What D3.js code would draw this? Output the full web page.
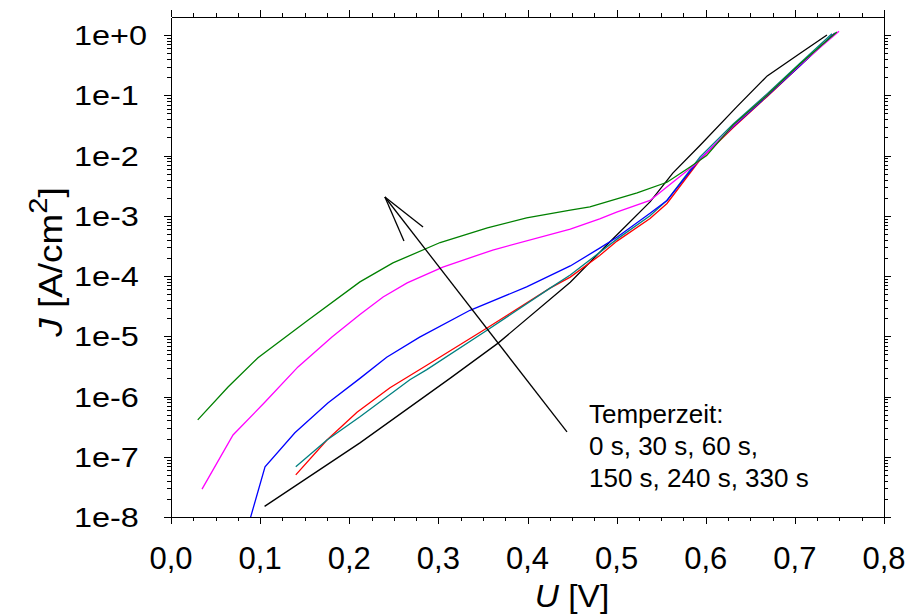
<!DOCTYPE html>
<html lang="de">
<head>
<meta charset="utf-8">
<title>J-U Kennlinien, Temperzeit</title>
<script src="https://cdn.jsdelivr.net/npm/d3@7"></script>
<style>
  body { margin: 0; background: #fff; }
  svg text { font-family: "Liberation Sans", Arial, sans-serif; fill: #000; }
  .axis path, .axis line { stroke: #000; shape-rendering: crispEdges; }
  .axis path { stroke-width: 1.5; }
  .curve { fill: none; stroke-width: 1.3; }
</style>
</head>
<body>
<script>
// --- data (U in V, J in A/cm^2) ---
var u_0s   = [0.105, 0.212, 0.313, 0.367, 0.448, 0.4926, 0.5375, 0.563, 0.594, 0.635, 0.669, 0.706, 0.736];
var j_0s   = [1.5e-8, 1.7e-7, 2.0e-6, 7.7e-6, 7.9e-5, 3.7e-4, 1.7e-3, 5.1e-3, 1.5e-2, 6.5e-2, 0.21, 0.50, 1.0];

var u_30s  = [0.140, 0.175, 0.2087, 0.2457, 0.287, 0.3546, 0.4253, 0.448, 0.481, 0.5004, 0.5375, 0.5565, 0.5936, 0.6306, 0.6687, 0.7057, 0.744];
var j_30s  = [5.0e-8, 1.9e-7, 5.5e-7, 1.4e-6, 3.3e-6, 1.37e-5, 6.3e-5, 9.6e-5, 2.2e-4, 3.8e-4, 9.0e-4, 1.6e-3, 8.5e-3, 2.9e-2, 0.095, 0.31, 1.05];

var u_60s  = [0.140, 0.175, 0.212, 0.268, 0.287, 0.3546, 0.4253, 0.448, 0.5004, 0.5375, 0.5565, 0.5936, 0.6306, 0.6687, 0.7057, 0.7416];
var j_60s  = [6.8e-8, 1.9e-7, 4.6e-7, 1.9e-6, 2.8e-6, 1.26e-5, 6.3e-5, 1.04e-4, 4.1e-4, 1.0e-3, 1.8e-3, 9.5e-3, 3.3e-2, 0.105, 0.34, 1.05];

var u_150s = [0.0875, 0.1055, 0.139, 0.176, 0.212, 0.242, 0.279, 0.3355, 0.399, 0.448, 0.481, 0.5004, 0.5375, 0.5565, 0.5936, 0.6306, 0.6687, 0.7057, 0.745];
var j_150s = [8e-9, 6.8e-8, 2.5e-7, 7.8e-7, 2.0e-6, 4.5e-6, 9.7e-6, 2.7e-5, 6.6e-5, 1.47e-4, 2.9e-4, 4.4e-4, 1.1e-3, 1.8e-3, 8.8e-3, 3.0e-2, 0.097, 0.31, 1.08];

var u_240s = [0.0348, 0.0696, 0.1055, 0.1425, 0.1806, 0.212, 0.238, 0.265, 0.305, 0.361, 0.448, 0.481, 0.500, 0.5375, 0.563, 0.590, 0.6306, 0.6687, 0.7057, 0.7495];
var j_240s = [2.9e-8, 2.3e-7, 8.1e-7, 3.1e-6, 9.7e-6, 2.3e-5, 4.5e-5, 7.7e-5, 1.41e-4, 2.7e-4, 6.0e-4, 8.9e-4, 1.15e-3, 1.8e-3, 3.6e-3, 7.5e-3, 3.1e-2, 0.10, 0.32, 1.16];

var u_330s = [0.030, 0.064, 0.0976, 0.154, 0.212, 0.249, 0.302, 0.355, 0.399, 0.448, 0.470, 0.523, 0.5565, 0.582, 0.601, 0.6306, 0.6687, 0.7057, 0.747];
var j_330s = [4.1e-7, 1.44e-6, 4.4e-6, 1.87e-5, 8.0e-5, 1.65e-4, 3.6e-4, 6.3e-4, 9.2e-4, 1.24e-3, 1.4e-3, 2.4e-3, 3.6e-3, 6.4e-3, 1.0e-2, 3.2e-2, 0.10, 0.33, 1.12];

var series_colors = ["#000000", "#ff0000", "#008080", "#0000ff", "#ff00ff", "#008000"];

var x_ticks = [0, 0.1, 0.2, 0.3, 0.4, 0.5, 0.6, 0.7, 0.8];
var y_ticks = [1e-8, 1e-7, 1e-6, 1e-5, 1e-4, 1e-3, 1e-2, 1e-1, 1];
var y_tick_labels = ["1e-8", "1e-7", "1e-6", "1e-5", "1e-4", "1e-3", "1e-2", "1e-1", "1e+0"];

var note_lines = ["Temperzeit:", "0 s, 30 s, 60 s,", "150 s, 240 s, 330 s"];

// arrow (data coords): tail, tip, two head ends
var arrow_u = [0.4443, 0.240, 0.2614, 0.2828];
var arrow_j = [2.58e-7, 2.05e-3, 3.8e-4, 6.5e-4];

// --- layout ---
var outer_width = 909, outer_height = 615;
var margin = {top: 17, right: 25, bottom: 98, left: 171};
var width = outer_width - margin.left - margin.right;
var height = outer_height - margin.top - margin.bottom;

var svg = d3.select("body").append("svg")
    .attr("width", outer_width)
    .attr("height", outer_height);

var g = svg.append("g")
    .attr("transform", "translate(" + margin.left + "," + margin.top + ")");

var xScale = d3.scaleLinear().domain([0, 0.8]).range([0, width]);
var yScale = d3.scaleLog().domain([1e-8, 1.995]).range([height, 0]);

// minor ticks
var x_minor = d3.range(0, 0.8001, 0.025).filter(function(v) {
    return Math.abs(v * 10 - Math.round(v * 10)) > 1e-6;
});
var y_minor = yScale.ticks().filter(function(v) {
    var m = v / Math.pow(10, Math.floor(Math.log10(v) + 1e-9));
    return Math.abs(m - 1) > 1e-6;
});

function addAxis(axisFn, scale, vals, size, transform) {
    var a = axisFn(scale).tickValues(vals).tickSize(size).tickSizeOuter(0).tickFormat("");
    g.append("g").attr("class", "axis").attr("transform", transform).call(a);
}

// bottom / top
addAxis(d3.axisBottom, xScale, x_minor, 4, "translate(0," + height + ")");
addAxis(d3.axisBottom, xScale, x_ticks, 7, "translate(0," + height + ")");
addAxis(d3.axisTop, xScale, x_minor, 4, "translate(0,0)");
addAxis(d3.axisTop, xScale, x_ticks, 7, "translate(0,0)");
// left / right
addAxis(d3.axisLeft, yScale, y_minor, 4, "translate(0,0)");
addAxis(d3.axisLeft, yScale, y_ticks, 7, "translate(0,0)");
addAxis(d3.axisRight, yScale, y_minor, 4, "translate(" + width + ",0)");
addAxis(d3.axisRight, yScale, y_ticks, 7, "translate(" + width + ",0)");

// x tick labels (decimal comma)
g.selectAll(".xlab").data(x_ticks).enter().append("text")
    .attr("class", "xlab")
    .attr("x", function(d) { return xScale(d); })
    .attr("y", height + 52)
    .attr("text-anchor", "middle")
    .style("font-size", "31px")
    .text(function(d) { return d3.format(".1f")(d).replace(".", ","); });

// y tick labels (slightly wide, like the original)
g.selectAll(".ylab").data(y_ticks).enter().append("g")
    .attr("class", "ylab")
    .attr("transform", function(d) { return "translate(-97," + (yScale(d) + 10) + ") scale(1.2,1)"; })
    .append("text")
    .style("font-size", "27px")
    .text(function(d, i) { return y_tick_labels[i]; });

// axis titles
var xt = svg.append("text")
    .attr("transform", "translate(572,607) scale(1.08,1)")
    .attr("text-anchor", "middle")
    .style("font-size", "31px");
xt.append("tspan").style("font-style", "italic").text("U");
xt.append("tspan").text(" [V]");

var yt = svg.append("text")
    .attr("transform", "translate(62,262) rotate(-90) scale(1.12,1)")
    .attr("text-anchor", "middle")
    .style("font-size", "33px");
yt.append("tspan").style("font-style", "italic").text("J");
yt.append("tspan").text(" [A/cm");
yt.append("tspan").attr("dy", -15).style("font-size", "26px").text("2");
yt.append("tspan").attr("dy", 15).text("]");

// curves
g.append("clipPath").attr("id", "plotclip")
    .append("rect").attr("width", width).attr("height", height);

var all_u = [u_0s, u_30s, u_60s, u_150s, u_240s, u_330s];
var all_j = [j_0s, j_30s, j_60s, j_150s, j_240s, j_330s];

var line = d3.line()
    .x(function(d) { return xScale(d[0]); })
    .y(function(d) { return yScale(d[1]); });

var curves = g.append("g").attr("clip-path", "url(#plotclip)");
all_u.forEach(function(us, k) {
    var pts = us.map(function(u, i) { return [u, all_j[k][i]]; });
    curves.append("path")
        .attr("class", "curve")
        .attr("d", line(pts))
        .attr("stroke", series_colors[k]);
});

// arrow
var ap = arrow_u.map(function(u, i) { return [xScale(u), yScale(arrow_j[i])]; });
[[0, 1], [1, 2], [1, 3]].forEach(function(s) {
    g.append("line")
        .attr("x1", ap[s[0]][0]).attr("y1", ap[s[0]][1])
        .attr("x2", ap[s[1]][0]).attr("y2", ap[s[1]][1])
        .attr("stroke", "#000").attr("stroke-width", 1.3);
});

// note
svg.selectAll(".note").data(note_lines).enter().append("text")
    .attr("class", "note")
    .attr("x", 589)
    .attr("y", function(d, i) { return 423 + i * 32; })
    .style("font-size", "26px")
    .text(function(d) { return d; });
</script>
</body>
</html>
